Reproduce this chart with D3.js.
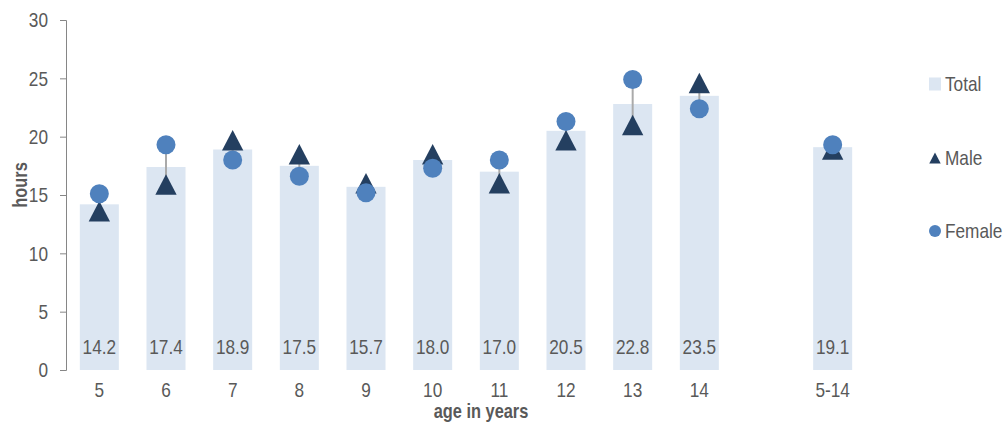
<!DOCTYPE html>
<html><head><meta charset="utf-8">
<script src="https://cdn.jsdelivr.net/npm/d3@7"></script>
<style>
body{margin:0;background:#fff;}
svg text{font-family:"Liberation Sans",Arial,sans-serif;fill:#595959;}
</style></head>
<body><svg id="c" width="1006" height="423"></svg>
<script>
const categories = ["5","6","7","8","9","10","11","12","13","14","","5-14"];
const totalValues = [14.2,17.4,18.9,17.5,15.7,18.0,17.0,20.5,22.8,23.5,null,19.1];
const maleValues = [13.6,15.9,19.7,18.5,16.0,18.5,16.0,19.7,21.0,24.6,null,18.9];
const femaleValues = [15.1,19.3,18.0,16.6,15.2,17.3,18.0,21.3,24.9,22.4,null,19.3];
const yTicks = [0,5,10,15,20,25,30];
const legendLabels = ["Total","Male","Female"];

const K = 0.82; // horizontal condensing to mimic a narrow font
function condense(sel){
  sel.each(function(){
    const t = d3.select(this);
    const x = +(t.attr("x")||0);
    t.attr("x", x/K).attr("transform", ((t.attr("transform")||"") + ` scale(${K},1)`).trim());
  });
}

const svg = d3.select("#c");
const x = d3.scaleBand().domain(categories.map((c,i)=>i)).range([66,866]).paddingInner(0.415).paddingOuter(0.2075);
const y = d3.scaleLinear().domain([0,30]).range([370,20]);
const data = categories.map((c,i)=>({c,i,t:totalValues[i],m:maleValues[i],f:femaleValues[i]})).filter(d=>d.t!=null);

const cBar="#dce6f2", cMale="#243f60", cFemale="#4f81bd";

// bars
svg.append("g").selectAll("rect").data(data).join("rect")
  .attr("x",d=>x(d.i)).attr("width",x.bandwidth())
  .attr("y",d=>y(d.t)).attr("height",d=>y(0)-y(d.t)).attr("fill",cBar);

// y axis
const yAxis = d3.axisLeft(y).tickValues(yTicks).tickSize(6).tickPadding(12);
const gy = svg.append("g").attr("transform","translate(66,0)").call(yAxis);
gy.select(".domain").attr("stroke","#868686").attr("d","M-6,20.5H0.5V370.5H-6");
gy.selectAll(".tick line").attr("stroke","#868686");
gy.selectAll(".tick text").style("font-size","21px").attr("fill","#595959").call(condense);

// x axis labels
const xAxis = d3.axisBottom(x).tickFormat(i=>categories[i]).tickSize(0).tickPadding(12);
const gx = svg.append("g").attr("transform","translate(0,370)").call(xAxis);
gx.select(".domain").remove();
gx.selectAll(".tick text").style("font-size","21px").attr("fill","#595959").call(condense);

// value labels
svg.append("g").selectAll("text").data(data).join("text")
  .attr("x",d=>x(d.i)+x.bandwidth()/2).attr("y",y(0)-16)
  .attr("text-anchor","middle").style("font-size","21px").text(d=>d.t.toFixed(1)).call(condense);

// connectors
svg.append("g").selectAll("line").data(data).join("line")
  .attr("x1",d=>x(d.i)+x.bandwidth()/2).attr("x2",d=>x(d.i)+x.bandwidth()/2)
  .attr("y1",d=>y(d.m)).attr("y2",d=>y(d.f)).attr("stroke","#aaaaaa").attr("stroke-width",2);

// male triangles
const tri = (s)=>`M0,${-s*0.5}L${s*0.52},${s*0.5}L${-s*0.52},${s*0.5}Z`;
svg.append("g").selectAll("path").data(data).join("path")
  .attr("transform",d=>`translate(${x(d.i)+x.bandwidth()/2},${y(d.m)})`)
  .attr("d",tri(20.5)).attr("fill",cMale);
// female circles
svg.append("g").selectAll("circle").data(data).join("circle")
  .attr("cx",d=>x(d.i)+x.bandwidth()/2).attr("cy",d=>y(d.f)).attr("r",9.5).attr("fill",cFemale);

// axis titles
svg.append("text").attr("transform","translate(27,185) rotate(-90)").attr("text-anchor","middle")
  .style("font-size","20px").style("font-weight","bold").text("hours").call(condense);
svg.append("text").attr("x",481).attr("y",418).attr("text-anchor","middle")
  .style("font-size","20px").style("font-weight","bold").text("age in years").call(condense);

// legend
const lg = svg.append("g");
const ly = [84,158,231];
lg.append("rect").attr("x",929).attr("y",ly[0]-6.5).attr("width",12).attr("height",13).attr("fill",cBar);
lg.append("path").attr("transform",`translate(935,${ly[1]})`).attr("d",tri(11)).attr("fill",cMale);
lg.append("circle").attr("cx",935).attr("cy",ly[2]).attr("r",6).attr("fill",cFemale);
lg.selectAll("text.l").data(legendLabels).join("text").attr("class","l")
  .attr("x",945).attr("y",(d,i)=>ly[i]+7.5).style("font-size","21px").text(d=>d).call(condense);
</script></body></html>
